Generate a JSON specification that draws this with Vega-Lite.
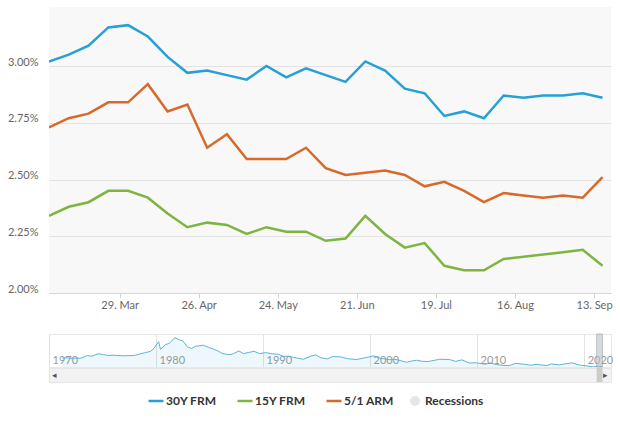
{
  "$schema": "https://vega.github.io/schema/vega-lite/v6.json",
  "background": "white",
  "padding": {"left": 7, "top": 7, "right": 8, "bottom": 4},
  "config": {"font": "Lato", "view": {"stroke": null}},
  "datasets": {
    "pmms": [
      {"date": "2021-03-04", "series": "30Y FRM", "rate": 3.02}, {"date": "2021-03-11", "series": "30Y FRM", "rate": 3.05},
      {"date": "2021-03-18", "series": "30Y FRM", "rate": 3.09}, {"date": "2021-03-25", "series": "30Y FRM", "rate": 3.17},
      {"date": "2021-04-01", "series": "30Y FRM", "rate": 3.18}, {"date": "2021-04-08", "series": "30Y FRM", "rate": 3.13},
      {"date": "2021-04-15", "series": "30Y FRM", "rate": 3.04}, {"date": "2021-04-22", "series": "30Y FRM", "rate": 2.97},
      {"date": "2021-04-29", "series": "30Y FRM", "rate": 2.98}, {"date": "2021-05-06", "series": "30Y FRM", "rate": 2.96},
      {"date": "2021-05-13", "series": "30Y FRM", "rate": 2.94}, {"date": "2021-05-20", "series": "30Y FRM", "rate": 3.00},
      {"date": "2021-05-27", "series": "30Y FRM", "rate": 2.95}, {"date": "2021-06-03", "series": "30Y FRM", "rate": 2.99},
      {"date": "2021-06-10", "series": "30Y FRM", "rate": 2.96}, {"date": "2021-06-17", "series": "30Y FRM", "rate": 2.93},
      {"date": "2021-06-24", "series": "30Y FRM", "rate": 3.02}, {"date": "2021-07-01", "series": "30Y FRM", "rate": 2.98},
      {"date": "2021-07-08", "series": "30Y FRM", "rate": 2.90}, {"date": "2021-07-15", "series": "30Y FRM", "rate": 2.88},
      {"date": "2021-07-22", "series": "30Y FRM", "rate": 2.78}, {"date": "2021-07-29", "series": "30Y FRM", "rate": 2.80},
      {"date": "2021-08-05", "series": "30Y FRM", "rate": 2.77}, {"date": "2021-08-12", "series": "30Y FRM", "rate": 2.87},
      {"date": "2021-08-19", "series": "30Y FRM", "rate": 2.86}, {"date": "2021-08-26", "series": "30Y FRM", "rate": 2.87},
      {"date": "2021-09-02", "series": "30Y FRM", "rate": 2.87}, {"date": "2021-09-09", "series": "30Y FRM", "rate": 2.88},
      {"date": "2021-09-16", "series": "30Y FRM", "rate": 2.86},
      {"date": "2021-03-04", "series": "15Y FRM", "rate": 2.34}, {"date": "2021-03-11", "series": "15Y FRM", "rate": 2.38},
      {"date": "2021-03-18", "series": "15Y FRM", "rate": 2.40}, {"date": "2021-03-25", "series": "15Y FRM", "rate": 2.45},
      {"date": "2021-04-01", "series": "15Y FRM", "rate": 2.45}, {"date": "2021-04-08", "series": "15Y FRM", "rate": 2.42},
      {"date": "2021-04-15", "series": "15Y FRM", "rate": 2.35}, {"date": "2021-04-22", "series": "15Y FRM", "rate": 2.29},
      {"date": "2021-04-29", "series": "15Y FRM", "rate": 2.31}, {"date": "2021-05-06", "series": "15Y FRM", "rate": 2.30},
      {"date": "2021-05-13", "series": "15Y FRM", "rate": 2.26}, {"date": "2021-05-20", "series": "15Y FRM", "rate": 2.29},
      {"date": "2021-05-27", "series": "15Y FRM", "rate": 2.27}, {"date": "2021-06-03", "series": "15Y FRM", "rate": 2.27},
      {"date": "2021-06-10", "series": "15Y FRM", "rate": 2.23}, {"date": "2021-06-17", "series": "15Y FRM", "rate": 2.24},
      {"date": "2021-06-24", "series": "15Y FRM", "rate": 2.34}, {"date": "2021-07-01", "series": "15Y FRM", "rate": 2.26},
      {"date": "2021-07-08", "series": "15Y FRM", "rate": 2.20}, {"date": "2021-07-15", "series": "15Y FRM", "rate": 2.22},
      {"date": "2021-07-22", "series": "15Y FRM", "rate": 2.12}, {"date": "2021-07-29", "series": "15Y FRM", "rate": 2.10},
      {"date": "2021-08-05", "series": "15Y FRM", "rate": 2.10}, {"date": "2021-08-12", "series": "15Y FRM", "rate": 2.15},
      {"date": "2021-08-19", "series": "15Y FRM", "rate": 2.16}, {"date": "2021-08-26", "series": "15Y FRM", "rate": 2.17},
      {"date": "2021-09-02", "series": "15Y FRM", "rate": 2.18}, {"date": "2021-09-09", "series": "15Y FRM", "rate": 2.19},
      {"date": "2021-09-16", "series": "15Y FRM", "rate": 2.12},
      {"date": "2021-03-04", "series": "5/1 ARM", "rate": 2.73}, {"date": "2021-03-11", "series": "5/1 ARM", "rate": 2.77},
      {"date": "2021-03-18", "series": "5/1 ARM", "rate": 2.79}, {"date": "2021-03-25", "series": "5/1 ARM", "rate": 2.84},
      {"date": "2021-04-01", "series": "5/1 ARM", "rate": 2.84}, {"date": "2021-04-08", "series": "5/1 ARM", "rate": 2.92},
      {"date": "2021-04-15", "series": "5/1 ARM", "rate": 2.80}, {"date": "2021-04-22", "series": "5/1 ARM", "rate": 2.83},
      {"date": "2021-04-29", "series": "5/1 ARM", "rate": 2.64}, {"date": "2021-05-06", "series": "5/1 ARM", "rate": 2.70},
      {"date": "2021-05-13", "series": "5/1 ARM", "rate": 2.59}, {"date": "2021-05-20", "series": "5/1 ARM", "rate": 2.59},
      {"date": "2021-05-27", "series": "5/1 ARM", "rate": 2.59}, {"date": "2021-06-03", "series": "5/1 ARM", "rate": 2.64},
      {"date": "2021-06-10", "series": "5/1 ARM", "rate": 2.55}, {"date": "2021-06-17", "series": "5/1 ARM", "rate": 2.52},
      {"date": "2021-06-24", "series": "5/1 ARM", "rate": 2.53}, {"date": "2021-07-01", "series": "5/1 ARM", "rate": 2.54},
      {"date": "2021-07-08", "series": "5/1 ARM", "rate": 2.52}, {"date": "2021-07-15", "series": "5/1 ARM", "rate": 2.47},
      {"date": "2021-07-22", "series": "5/1 ARM", "rate": 2.49}, {"date": "2021-07-29", "series": "5/1 ARM", "rate": 2.45},
      {"date": "2021-08-05", "series": "5/1 ARM", "rate": 2.40}, {"date": "2021-08-12", "series": "5/1 ARM", "rate": 2.44},
      {"date": "2021-08-19", "series": "5/1 ARM", "rate": 2.43}, {"date": "2021-08-26", "series": "5/1 ARM", "rate": 2.42},
      {"date": "2021-09-02", "series": "5/1 ARM", "rate": 2.43}, {"date": "2021-09-09", "series": "5/1 ARM", "rate": 2.42},
      {"date": "2021-09-16", "series": "5/1 ARM", "rate": 2.51}
    ],
    "history": [
      {"date": "1971-04-01", "rate": 7.33}, {"date": "1971-07-01", "rate": 7.65}, {"date": "1972-01-01", "rate": 7.44},
      {"date": "1972-07-01", "rate": 7.37}, {"date": "1973-01-01", "rate": 7.44}, {"date": "1973-08-01", "rate": 8.85},
      {"date": "1974-01-01", "rate": 8.46}, {"date": "1974-08-01", "rate": 9.8}, {"date": "1975-01-01", "rate": 9.4},
      {"date": "1975-07-01", "rate": 8.9}, {"date": "1976-01-01", "rate": 9.0}, {"date": "1976-12-01", "rate": 8.7},
      {"date": "1977-07-01", "rate": 8.8}, {"date": "1978-01-01", "rate": 8.9}, {"date": "1978-07-01", "rate": 9.7},
      {"date": "1979-01-01", "rate": 10.4}, {"date": "1979-07-01", "rate": 11.1}, {"date": "1979-11-01", "rate": 12.9},
      {"date": "1980-04-01", "rate": 16.3}, {"date": "1980-06-01", "rate": 12.2}, {"date": "1980-12-01", "rate": 14.8},
      {"date": "1981-04-01", "rate": 15.4}, {"date": "1981-10-01", "rate": 18.45}, {"date": "1982-03-01", "rate": 17.3},
      {"date": "1982-07-01", "rate": 16.8}, {"date": "1982-12-01", "rate": 13.6}, {"date": "1983-05-01", "rate": 12.6},
      {"date": "1983-09-01", "rate": 13.8}, {"date": "1984-06-01", "rate": 14.4}, {"date": "1984-12-01", "rate": 13.2},
      {"date": "1985-06-01", "rate": 12.2}, {"date": "1985-12-01", "rate": 10.9}, {"date": "1986-04-01", "rate": 9.8},
      {"date": "1986-12-01", "rate": 9.3}, {"date": "1987-04-01", "rate": 9.9}, {"date": "1987-10-01", "rate": 11.3},
      {"date": "1988-03-01", "rate": 9.9}, {"date": "1988-09-01", "rate": 10.5}, {"date": "1989-03-01", "rate": 11.1},
      {"date": "1989-09-01", "rate": 9.9}, {"date": "1990-04-01", "rate": 10.4}, {"date": "1990-12-01", "rate": 9.7},
      {"date": "1991-06-01", "rate": 9.6}, {"date": "1991-12-01", "rate": 8.4}, {"date": "1992-06-01", "rate": 8.5},
      {"date": "1992-10-01", "rate": 8.0}, {"date": "1993-03-01", "rate": 7.5}, {"date": "1993-10-01", "rate": 6.8},
      {"date": "1994-06-01", "rate": 8.4}, {"date": "1994-12-01", "rate": 9.2}, {"date": "1995-06-01", "rate": 7.6},
      {"date": "1996-01-01", "rate": 7.0}, {"date": "1996-07-01", "rate": 8.3}, {"date": "1997-04-01", "rate": 8.1},
      {"date": "1997-12-01", "rate": 7.1}, {"date": "1998-10-01", "rate": 6.7}, {"date": "1999-06-01", "rate": 7.5},
      {"date": "2000-05-01", "rate": 8.6}, {"date": "2000-12-01", "rate": 7.4}, {"date": "2001-11-01", "rate": 6.6},
      {"date": "2002-06-01", "rate": 6.7}, {"date": "2003-06-01", "rate": 5.2}, {"date": "2003-12-01", "rate": 5.9},
      {"date": "2004-05-01", "rate": 6.3}, {"date": "2004-12-01", "rate": 5.7}, {"date": "2005-06-01", "rate": 5.6},
      {"date": "2006-07-01", "rate": 6.8}, {"date": "2007-06-01", "rate": 6.7}, {"date": "2008-01-01", "rate": 5.7},
      {"date": "2008-08-01", "rate": 6.5}, {"date": "2009-04-01", "rate": 4.8}, {"date": "2009-12-01", "rate": 4.9},
      {"date": "2010-10-01", "rate": 4.2}, {"date": "2011-04-01", "rate": 4.8}, {"date": "2011-10-01", "rate": 4.0},
      {"date": "2012-07-01", "rate": 3.5}, {"date": "2013-01-01", "rate": 3.4}, {"date": "2013-08-01", "rate": 4.6},
      {"date": "2014-06-01", "rate": 4.1}, {"date": "2015-02-01", "rate": 3.6}, {"date": "2015-07-01", "rate": 4.1},
      {"date": "2016-07-01", "rate": 3.4}, {"date": "2016-12-01", "rate": 4.3}, {"date": "2017-09-01", "rate": 3.8},
      {"date": "2018-11-01", "rate": 4.9}, {"date": "2019-09-01", "rate": 3.6}, {"date": "2020-03-01", "rate": 3.3},
      {"date": "2020-12-01", "rate": 2.65}, {"date": "2021-04-01", "rate": 3.18}, {"date": "2021-09-16", "rate": 2.86}
    ],
    "selected": [{"start": "2021-03-04", "end": "2021-09-16"}]
  },
  "bounds": "flush",
  "spacing": 41,
  "resolve": {"scale": {"color": "shared"}, "legend": {"color": "shared"}},
  "vconcat": [
    {
      "width": 562,
      "height": 286,
      "view": {"fill": "#f8f8f8", "stroke": null},
      "data": {"name": "pmms"},
      "mark": {"type": "line", "strokeWidth": 2.5, "clip": true},
      "encoding": {
        "x": {
          "field": "date", "type": "temporal",
          "scale": {"type": "utc", "domain": [{"year": 2021, "month": 3, "date": 4, "utc": true}, {"year": 2021, "month": 9, "date": 19, "utc": true}]},
          "axis": {
            "title": null, "grid": false, "format": "%d. %b",
            "values": [
              {"year": 2021, "month": 3, "date": 29, "utc": true}, {"year": 2021, "month": 4, "date": 26, "utc": true},
              {"year": 2021, "month": 5, "date": 24, "utc": true}, {"year": 2021, "month": 6, "date": 21, "utc": true},
              {"year": 2021, "month": 7, "date": 19, "utc": true}, {"year": 2021, "month": 8, "date": 16, "utc": true},
              {"year": 2021, "month": 9, "date": 13, "utc": true}
            ],
            "domainColor": "#d6d6d6", "tickColor": "#d6d6d6", "tickSize": 5, "labelPadding": 1,
            "labelColor": "#666666", "labelFontSize": 11, "labelFont": "Lato", "labelFlush": false
          }
        },
        "y": {
          "field": "rate", "type": "quantitative",
          "scale": {"domain": [2, 3.26], "nice": false, "zero": false},
          "axis": {
            "title": null, "values": [2, 2.25, 2.5, 2.75, 3],
            "labelExpr": "format(datum.value, '.2f') + '%'",
            "domain": false, "ticks": false, "tickSize": 0, "labelPadding": 11, "labelOffset": -4,
            "labelColor": "#666666", "labelFontSize": 11, "labelFont": "Lato",
            "gridColor": "#e3e3e3", "gridWidth": 1
          }
        },
        "color": {
          "field": "series", "type": "nominal",
          "scale": {"domain": ["30Y FRM", "15Y FRM", "5/1 ARM", "Recessions"], "range": ["#27a0d6", "#7db442", "#d7692b", "#e6e6e6"]},
          "legend": {
            "orient": "none", "legendX": 101, "legendY": 388, "direction": "horizontal", "title": null,
            "labelFont": "Lato", "labelFontSize": 12, "labelFontWeight": "bold", "labelColor": "#333333",
            "symbolType": "stroke", "symbolSize": 225, "symbolStrokeWidth": 2.5, "columnPadding": 15, "labelOffset": 4,
            "encode": {
              "symbols": {
                "update": {
                  "shape": {"signal": "datum.value === 'Recessions' ? 'circle' : 'stroke'"},
                  "size": {"signal": "datum.value === 'Recessions' ? 100 : 225"},
                  "fill": {"signal": "datum.value === 'Recessions' ? '#e6e6e6' : 'transparent'"},
                  "strokeWidth": {"signal": "datum.value === 'Recessions' ? 0 : 2.5"}
                }
              }
            }
          }
        }
      }
    },
    {
      "bounds": "flush",
      "spacing": 1,
      "vconcat": [
        {
          "width": 562,
          "height": 33,
          "view": {"fill": "white", "stroke": "#e8e8e8"},
          "layer": [
            {
              "data": {"name": "history"},
              "mark": {"type": "area", "fill": "#27a0d6", "fillOpacity": 0.08, "clip": true},
              "encoding": {
                "x": {
                  "field": "date", "type": "temporal",
                  "scale": {"type": "utc", "domain": [{"year": 1970, "month": 1, "date": 1, "utc": true}, {"year": 2022, "month": 7, "date": 6, "utc": true}]},
                  "axis": {
                    "title": null, "grid": true, "gridColor": "#e3e3e3", "domain": false, "ticks": false, "tickSize": 0,
                    "format": "%Y",
                    "values": [
                      {"year": 1970, "month": 1, "date": 1, "utc": true}, {"year": 1980, "month": 1, "date": 1, "utc": true},
                      {"year": 1990, "month": 1, "date": 1, "utc": true}, {"year": 2000, "month": 1, "date": 1, "utc": true},
                      {"year": 2010, "month": 1, "date": 1, "utc": true}, {"year": 2020, "month": 1, "date": 1, "utc": true}
                    ],
                    "labelAlign": "left", "labelOffset": 3, "labelPadding": -13, "labelBaseline": "top",
                    "labelColor": "#999999", "labelFontSize": 11, "labelFont": "Lato", "labelFlush": false
                  }
                },
                "y": {"field": "rate", "type": "quantitative", "scale": {"domain": [2.65, 20.45], "nice": false, "zero": false}, "axis": null}
              }
            },
            {
              "data": {"name": "history"},
              "mark": {"type": "line", "stroke": "#5cb4da", "strokeWidth": 1, "clip": true},
              "encoding": {
                "x": {"field": "date", "type": "temporal"},
                "y": {"field": "rate", "type": "quantitative"}
              }
            },
            {
              "data": {"name": "selected"},
              "mark": {"type": "rect", "fill": "#b9c2cf", "opacity": 0.6, "stroke": "#999999", "strokeWidth": 1},
              "encoding": {
                "x": {"field": "start", "type": "temporal"},
                "x2": {"field": "end"}
              }
            }
          ]
        },
        {
          "width": 562,
          "height": 14,
          "view": {"fill": "#f2f2f2", "stroke": "#e6e6e6"},
          "data": {"name": "selected"},
          "layer": [
            {
              "mark": {"type": "rect", "fill": "#cccccc"},
              "encoding": {
                "x": {
                  "field": "start", "type": "temporal",
                  "scale": {"type": "utc", "domain": [{"year": 1970, "month": 1, "date": 1, "utc": true}, {"year": 2022, "month": 7, "date": 6, "utc": true}]},
                  "axis": null
                },
                "x2": {"field": "end"}
              }
            },
            {
              "mark": {"type": "text", "text": "◂", "align": "left", "dx": 3, "fontSize": 9, "color": "#555555"},
              "encoding": {"x": {"datum": {"year": 1970, "month": 1, "date": 1, "utc": true}, "type": "temporal"}}
            },
            {
              "mark": {"type": "text", "text": "▸", "align": "right", "dx": -3, "fontSize": 9, "color": "#555555"},
              "encoding": {"x": {"datum": {"year": 2022, "month": 7, "date": 6, "utc": true}, "type": "temporal"}}
            }
          ]
        }
      ]
    }
  ]
}
